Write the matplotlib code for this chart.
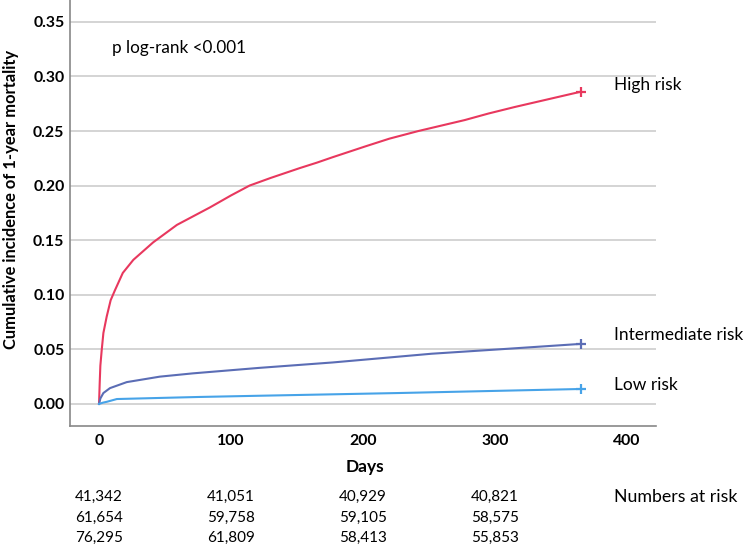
import matplotlib
matplotlib.use("Agg")
import matplotlib.pyplot as plt
import matplotlib.transforms as mtransforms

# ---- data ----
high_days = [0, 0.5, 1, 2, 3.3, 5.8, 8.8, 12, 18, 26, 41, 59, 84, 100, 114, 130, 152, 165, 177,
             202, 220, 242, 277, 295, 315, 340, 365]
high_vals = [0, 0.019, 0.035, 0.049, 0.065, 0.080, 0.095, 0.104, 0.120, 0.132, 0.148, 0.164, 0.180,
             0.191, 0.200, 0.207, 0.216, 0.221, 0.226, 0.236, 0.243, 0.250, 0.260, 0.266, 0.272,
             0.279, 0.286]

inter_days = [0, 1, 3.3, 8.3, 21, 46, 71, 121, 177, 252, 303, 365]
inter_vals = [0, 0.005, 0.010, 0.0145, 0.020, 0.025, 0.028, 0.033, 0.038, 0.046, 0.050, 0.055]

low_days = [0, 3, 6, 13.5, 46, 76, 121, 227, 365]
low_vals = [0, 0.0012, 0.002, 0.0045, 0.0055, 0.0064, 0.0075, 0.010, 0.0137]

series_labels = ["High risk", "Intermediate risk", "Low risk"]
series_colors = ["#E8385E", "#5B6DB5", "#47A3E8"]

x_ticks = [0, 100, 200, 300, 400]
y_ticks = [0.00, 0.05, 0.10, 0.15, 0.20, 0.25, 0.30, 0.35]

risk_days = [0, 100, 200, 300]
risk_row1 = ["41,342", "41,051", "40,929", "40,821"]
risk_row2 = ["61,654", "59,758", "59,105", "58,575"]
risk_row3 = ["76,295", "61,809", "58,413", "55,853"]

plt.rcParams['font.family'] = ['Lato', 'DejaVu Sans']

W, H = 751, 548
fig = plt.figure(figsize=(W / 100, H / 100), dpi=100)
ax = fig.add_axes([70 / W, 1 - 426 / H, (656 - 70) / W, 426 / H])

ax.set_xlim(-22, 422)
ax.set_ylim(-0.0202, 0.370)

for yt in y_ticks:
    ax.axhline(yt, color="#d4d4d4", lw=1.4, zorder=1)

curves = [(high_days, high_vals), (inter_days, inter_vals), (low_days, low_vals)]
label_y = [0.292, 0.063, 0.017]
for (d, v), lab, col, ly in zip(curves, series_labels, series_colors, label_y):
    ax.plot(d, v, color=col, lw=1.5, zorder=3)
    ax.plot([d[-1]], [v[-1]], marker="+", color=col, ms=7.5, mew=1.6, zorder=4)
    ax.text(390, ly, lab, fontsize=12.5, va="center", ha="left", clip_on=False)

ax.text(10, 0.326, "p log-rank <0.001", fontsize=12.3, va="center", ha="left")

ax.set_xticks(x_ticks)
ax.set_yticks(y_ticks)
ax.set_xticklabels([str(t) for t in x_ticks], fontweight="bold", fontsize=11.4)
ax.set_yticklabels([f"{t:.2f}" for t in y_ticks], fontweight="bold", fontsize=11.4)
ax.tick_params(axis="both", length=0)
ax.tick_params(axis="x", pad=6)
ax.tick_params(axis="y", pad=4)

for s in ["top", "right"]:
    ax.spines[s].set_visible(False)
for s in ["left", "bottom"]:
    ax.spines[s].set_color("#888888")
    ax.spines[s].set_linewidth(1.2)

fig.text(365 / W, 1 - 467 / H, "Days", fontweight="bold", fontsize=12.5, ha="center", va="center")

ylab = fig.text(11 / W, 1 - 199 / H, "Cumulative incidence of 1-year mortality", fontweight="bold",
                fontsize=10.5, rotation=90, ha="center", va="center")
fig.canvas.draw()
ext = ylab.get_window_extent(fig.canvas.get_renderer())
ylab.set_fontsize(10.5 * 302 / ext.height)

trans = mtransforms.blended_transform_factory(ax.transData, fig.transFigure)
for row, ypx in zip([risk_row1, risk_row2, risk_row3], [497, 518, 538]):
    for d, txt in zip(risk_days, row):
        ax.text(d, 1 - ypx / H, txt, transform=trans, ha="center", va="center", fontsize=11, clip_on=False)
ax.text(390, 1 - 497 / H, "Numbers at risk", transform=trans, ha="left", va="center", fontsize=12.8, clip_on=False)

fig.savefig("out.png", dpi=100)
